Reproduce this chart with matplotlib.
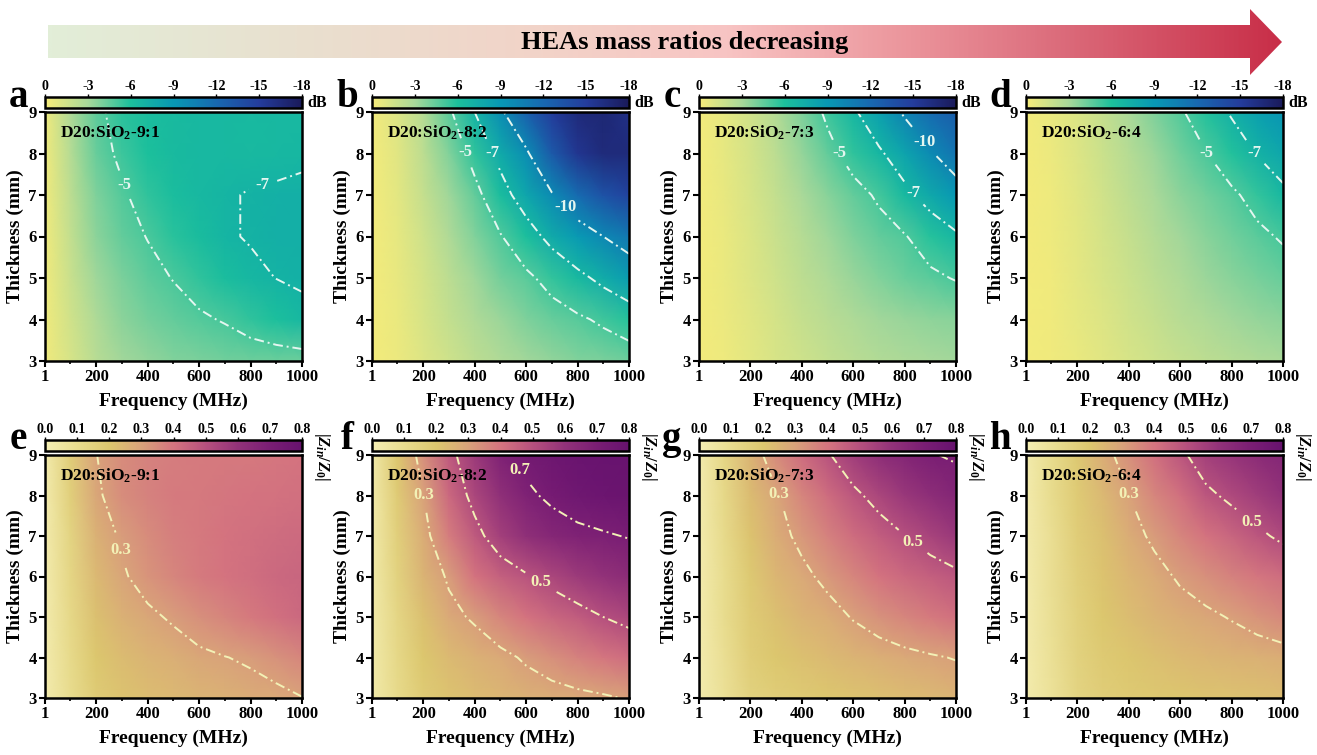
import numpy as np
import matplotlib
matplotlib.use('Agg')
import matplotlib.pyplot as plt
from matplotlib.colors import LinearSegmentedColormap, Normalize
from matplotlib.patches import Polygon
from matplotlib.cm import ScalarMappable
from matplotlib.ticker import FixedLocator

plt.rcParams['font.family'] = ['Liberation Serif', 'DejaVu Serif']
plt.rcParams['font.weight'] = 'bold'
plt.rcParams['axes.unicode_minus'] = False
plt.rcParams['mathtext.fontset'] = 'custom'
plt.rcParams['mathtext.rm'] = 'Liberation Serif:bold'
plt.rcParams['mathtext.bf'] = 'Liberation Serif:bold'
plt.rcParams['mathtext.it'] = 'Liberation Serif:bold:italic'

# ---------------- data ----------------
freq_mhz = [1, 100, 200, 300, 400, 500, 600, 700, 800, 900, 1000]
thickness_mm = [3, 4, 5, 6, 7, 8, 9]
freq_ticks = [1, 200, 400, 600, 800, 1000]
samples = ['9:1', '8:2', '7:3', '6:4']
top_letters = ['a', 'b', 'c', 'd']
bottom_letters = ['e', 'f', 'g', 'h']

# reflection loss (dB), rows: thickness 3 -> 9 mm, cols: freq_mhz
rl_a = [
    [-0.3, -1.3, -2.4, -3.1, -3.5, -3.8, -4.0, -4.15, -4.25, -4.3, -4.35],
    [-0.3, -1.5, -2.8, -3.6, -4.1, -4.5, -4.8, -5.1, -5.6, -6.1, -6.6],
    [-0.3, -1.8, -3.2, -4.0, -4.6, -5.05, -5.6, -6.2, -6.7, -7.02, -7.2],
    [-0.3, -2.0, -3.6, -4.5, -5.05, -5.7, -6.3, -6.85, -7.1, -7.25, -7.3],
    [-0.3, -2.2, -3.9, -4.8, -5.6, -6.2, -6.6, -6.85, -7.1, -7.2, -7.3],
    [-0.3, -2.5, -4.4, -5.3, -6.0, -6.4, -6.55, -6.6, -6.5, -6.6, -6.75],
    [-0.3, -2.7, -4.6, -5.7, -6.2, -6.45, -6.55, -6.55, -6.5, -6.55, -6.6],
]
rl_b = [
    [-0.2, -0.45, -1.0, -1.6, -2.2, -2.7, -3.1, -3.5, -3.8, -4.0, -4.25],
    [-0.2, -0.5, -1.2, -2.0, -2.7, -3.3, -3.9, -4.4, -4.75, -5.25, -5.8],
    [-0.2, -0.6, -1.4, -2.3, -3.2, -4.1, -4.7, -5.5, -6.5, -7.5, -8.6],
    [-0.2, -0.7, -1.6, -2.7, -3.8, -4.9, -6.1, -7.6, -8.8, -10.0, -11.0],
    [-0.2, -0.8, -1.9, -3.2, -4.5, -6.2, -8.0, -9.8, -11.8, -13.5, -14.5],
    [-0.2, -0.9, -2.2, -3.8, -5.6, -7.6, -9.6, -13.0, -15.5, -16.5, -16.5],
    [-0.2, -1.0, -2.5, -4.7, -7.0, -9.6, -12.5, -15.0, -16.5, -16.8, -16.0],
]
rl_c = [
    [-0.2, -0.4, -0.8, -1.2, -1.6, -2.0, -2.35, -2.65, -2.85, -3.0, -3.1],
    [-0.2, -0.45, -0.9, -1.4, -1.9, -2.35, -2.75, -3.1, -3.35, -3.55, -3.7],
    [-0.2, -0.5, -1.0, -1.6, -2.2, -2.8, -3.35, -3.85, -4.3, -4.7, -5.1],
    [-0.2, -0.55, -1.1, -1.8, -2.5, -3.2, -3.9, -4.5, -4.9, -5.8, -6.7],
    [-0.2, -0.6, -1.2, -2.0, -2.9, -3.7, -4.5, -5.2, -6.5, -7.8, -9.0],
    [-0.2, -0.65, -1.35, -2.3, -3.4, -4.5, -5.6, -6.7, -8.1, -9.8, -11.2],
    [-0.2, -0.7, -1.5, -2.6, -3.9, -5.3, -6.7, -8.4, -10.3, -11.8, -12.8],
]
rl_d = [
    [-0.2, -0.3, -0.55, -0.9, -1.25, -1.6, -1.95, -2.25, -2.5, -2.7, -2.9],
    [-0.2, -0.3, -0.65, -1.05, -1.5, -1.95, -2.4, -2.8, -3.1, -3.4, -3.65],
    [-0.2, -0.35, -0.75, -1.2, -1.75, -2.3, -2.8, -3.3, -3.7, -4.05, -4.4],
    [-0.2, -0.4, -0.8, -1.35, -1.95, -2.55, -3.15, -3.7, -4.2, -4.7, -5.15],
    [-0.2, -0.4, -0.9, -1.5, -2.2, -2.9, -3.6, -4.2, -4.75, -5.5, -6.6],
    [-0.2, -0.45, -1.0, -1.7, -2.5, -3.3, -4.2, -4.95, -5.9, -7.1, -8.0],
    [-0.2, -0.5, -1.1, -1.9, -2.9, -3.9, -4.8, -5.9, -7.2, -8.4, -9.2],
]

# impedance matching |Zin/Z0|, rows: thickness 3 -> 9 mm
zin_e = [
    [0.02, 0.10, 0.18, 0.21, 0.225, 0.24, 0.25, 0.26, 0.273, 0.28, 0.298],
    [0.02, 0.11, 0.20, 0.23, 0.25, 0.265, 0.285, 0.298, 0.31, 0.335, 0.36],
    [0.02, 0.12, 0.22, 0.26, 0.285, 0.31, 0.34, 0.365, 0.39, 0.41, 0.43],
    [0.02, 0.13, 0.24, 0.29, 0.33, 0.36, 0.385, 0.40, 0.415, 0.43, 0.44],
    [0.02, 0.14, 0.26, 0.31, 0.35, 0.375, 0.39, 0.40, 0.41, 0.42, 0.425],
    [0.02, 0.16, 0.285, 0.345, 0.37, 0.385, 0.39, 0.395, 0.40, 0.405, 0.41],
    [0.02, 0.17, 0.298, 0.35, 0.37, 0.38, 0.385, 0.39, 0.39, 0.395, 0.40],
]
zin_f = [
    [0.03, 0.11, 0.18, 0.21, 0.23, 0.245, 0.26, 0.27, 0.28, 0.29, 0.305],
    [0.03, 0.12, 0.20, 0.235, 0.26, 0.28, 0.31, 0.34, 0.37, 0.395, 0.42],
    [0.03, 0.13, 0.22, 0.28, 0.31, 0.36, 0.40, 0.435, 0.465, 0.50, 0.53],
    [0.03, 0.15, 0.25, 0.31, 0.40, 0.45, 0.49, 0.53, 0.57, 0.60, 0.63],
    [0.03, 0.16, 0.27, 0.38, 0.47, 0.55, 0.61, 0.65, 0.675, 0.69, 0.705],
    [0.03, 0.18, 0.298, 0.43, 0.53, 0.61, 0.68, 0.72, 0.75, 0.77, 0.78],
    [0.03, 0.20, 0.34, 0.47, 0.57, 0.68, 0.73, 0.76, 0.78, 0.79, 0.79],
]
zin_g = [
    [0.02, 0.08, 0.15, 0.17, 0.185, 0.20, 0.21, 0.22, 0.23, 0.24, 0.25],
    [0.02, 0.09, 0.17, 0.20, 0.22, 0.235, 0.25, 0.265, 0.28, 0.292, 0.304],
    [0.02, 0.10, 0.18, 0.22, 0.25, 0.27, 0.305, 0.335, 0.36, 0.385, 0.41],
    [0.02, 0.10, 0.19, 0.245, 0.28, 0.32, 0.36, 0.40, 0.43, 0.455, 0.48],
    [0.02, 0.11, 0.21, 0.27, 0.32, 0.37, 0.42, 0.46, 0.498, 0.54, 0.58],
    [0.02, 0.12, 0.23, 0.29, 0.36, 0.42, 0.48, 0.53, 0.58, 0.62, 0.66],
    [0.02, 0.13, 0.25, 0.35, 0.42, 0.49, 0.56, 0.62, 0.66, 0.695, 0.71],
]
zin_h = [
    [0.02, 0.075, 0.14, 0.17, 0.185, 0.195, 0.205, 0.21, 0.215, 0.22, 0.225],
    [0.02, 0.08, 0.15, 0.185, 0.205, 0.22, 0.235, 0.245, 0.255, 0.262, 0.27],
    [0.02, 0.085, 0.155, 0.20, 0.225, 0.25, 0.27, 0.285, 0.305, 0.33, 0.355],
    [0.02, 0.09, 0.16, 0.21, 0.245, 0.275, 0.31, 0.34, 0.37, 0.395, 0.42],
    [0.02, 0.09, 0.17, 0.22, 0.27, 0.315, 0.36, 0.40, 0.44, 0.48, 0.52],
    [0.02, 0.10, 0.18, 0.24, 0.298, 0.36, 0.41, 0.48, 0.52, 0.56, 0.60],
    [0.02, 0.10, 0.19, 0.27, 0.34, 0.41, 0.48, 0.55, 0.59, 0.63, 0.66],
]

rl_levels = [[-7, -5], [-10, -7, -5], [-10, -7, -5], [-7, -5]]
zin_levels = [[0.3], [0.3, 0.5, 0.7], [0.3, 0.5, 0.7], [0.3, 0.5]]
zin_label_levels = [[0.3], [0.3, 0.5, 0.7], [0.3, 0.5], [0.3, 0.5]]
rl_label_pos = [[(322, 7.28), (849, 7.21)],
                [(368, 8.03), (471, 8.03), (759, 6.76)],
                [(545, 8.0), (830, 7.02), (869, 8.25)],
                [(705, 8.03), (891, 8.03)]]
zin_label_pos = [[(295, 6.65)],
                 [(199, 8.02), (659, 5.87), (575, 8.63)],
                 [(317, 8.07), (830, 6.84)],
                 [(398, 8.02), (876, 7.33)]]
rl_cbar_ticks = [0, -3, -6, -9, -12, -15, -18]
zin_cbar_ticks = [0.0, 0.1, 0.2, 0.3, 0.4, 0.5, 0.6, 0.7, 0.8]

rl_data = [rl_a, rl_b, rl_c, rl_d]
zin_data = [zin_e, zin_f, zin_g, zin_h]

# ---------------- styling ----------------
cmap_rl = LinearSegmentedColormap.from_list('rl', [
    (0.0, '#1a1a5a'), (1/6, '#243c9c'), (2/6, '#1868b0'), (3/6, '#0898b4'),
    (4/6, '#1cc09c'), (5/6, '#a8d89a'), (1.0, '#f7ec7a')])
cmap_zin = LinearSegmentedColormap.from_list('zin', [
    (0.0, '#f5efb4'), (0.125, '#e8dc8e'), (0.25, '#dcc76e'), (0.375, '#d9a27a'),
    (0.5, '#d4747f'), (0.625, '#b6507e'), (0.75, '#923279'), (0.875, '#7a1e74'),
    (1.0, '#66126e')])
cmap_arrow = LinearSegmentedColormap.from_list('arr', [
    (0.0, '#e2eed8'), (0.2, '#e9e0cf'), (0.4, '#f2d3c8'), (0.55, '#f8c4c3'),
    (0.7, '#eb949b'), (0.8, '#de7381'), (1.0, '#c82e48')])

W, H = 1317, 755
fig = plt.figure(figsize=(W / 100, H / 100), dpi=100)


def rect(x0, y0, x1, y1):
    return [x0 / W, 1 - y1 / H, (x1 - x0) / W, (y1 - y0) / H]


# arrow banner
oax = fig.add_axes([0, 0, 1, 1])
oax.patch.set_visible(False)
arrow = Polygon([(48, 25), (1250, 25), (1250, 9), (1282, 42), (1250, 75),
                 (1250, 58), (48, 58)], closed=True, facecolor='none',
                edgecolor='none')
oax.add_patch(arrow)
gim = oax.imshow(np.linspace(0, 1, 512).reshape(1, -1), extent=[48, 1282, 75, 9],
                 aspect='auto', cmap=cmap_arrow)
gim.set_clip_path(arrow)
oax.set_xlim(0, W)
oax.set_ylim(H, 0)
oax.axis('off')
oax.text(685, 42, 'HEAs mass ratios decreasing', ha='center', va='center',
         fontsize=19, fontweight='bold')

lefts = [45, 372, 699, 1026]
axw = 257
F, T = np.meshgrid(freq_mhz, thickness_mm)
dashdot = (0, (5, 2, 1, 2))


def style_axes(ax):
    ax.set_xlim(1, 1000)
    ax.set_ylim(3, 9)
    ax.set_xticks(freq_ticks)
    ax.xaxis.set_minor_locator(FixedLocator([100, 300, 500, 700, 900]))
    ax.set_yticks(thickness_mm)
    ax.tick_params(which='major', direction='out', length=4, width=1.5,
                   labelsize=12, pad=2)
    ax.tick_params(which='minor', direction='out', length=2.5, width=1.2)
    for s in ax.spines.values():
        s.set_linewidth(1.8)
    ax.set_xlabel('Frequency (MHz)', fontsize=14, fontweight='bold', labelpad=5)
    ax.set_ylabel('Thickness (mm)', fontsize=14, fontweight='bold', labelpad=3)


def flat_labels(texts):
    for t in texts:
        t.set_rotation(0)


letter_x = [18, 347, 672, 1000]

for i in range(4):
    l = lefts[i]
    # ---- top row: reflection loss ----
    ax = fig.add_axes(rect(l, 112, l + axw, 361))
    Z = np.array(rl_data[i])
    ax.pcolormesh(F, T, Z, shading='gouraud', cmap=cmap_rl, vmin=-18, vmax=0,
                  rasterized=True)
    cs = ax.contour(F, T, Z, levels=rl_levels[i], colors='#e4f6f0',
                    linewidths=1.4)
    cs.set_linestyle(dashdot)
    txt = ax.clabel(cs, manual=rl_label_pos[i], inline=True, inline_spacing=8,
                    fmt='%g', fontsize=12, colors='#e4f6f0')
    flat_labels(txt)
    style_axes(ax)
    ax.text(0.06, 0.915, 'D20:SiO$_{2}$-' + samples[i], transform=ax.transAxes,
            fontsize=12.5, fontweight='bold', va='center', ha='left')

    cax = fig.add_axes(rect(l, 97, l + axw, 108))
    cb = fig.colorbar(ScalarMappable(norm=Normalize(-18, 0), cmap=cmap_rl),
                      cax=cax, orientation='horizontal')
    cax.invert_xaxis()
    cb.set_ticks(rl_cbar_ticks)
    cb.set_ticklabels([str(t) for t in rl_cbar_ticks])
    cax.xaxis.set_ticks_position('top')
    cax.tick_params(labelsize=10, length=2, width=1, pad=1)
    cb.outline.set_linewidth(1.8)
    fig.text((l + axw + 5) / W, 1 - 103 / H, 'dB', fontsize=11.5,
             fontweight='bold', ha='left', va='center')
    fig.text(letter_x[i] / W, 1 - 107 / H, top_letters[i], fontsize=28,
             fontweight='bold', ha='center', va='baseline')

    # ---- bottom row: impedance matching ----
    ax2 = fig.add_axes(rect(l, 455, l + axw, 698))
    Z2 = np.array(zin_data[i])
    ax2.pcolormesh(F, T, Z2, shading='gouraud', cmap=cmap_zin, vmin=0, vmax=0.8,
                   rasterized=True)
    cs2 = ax2.contour(F, T, Z2, levels=zin_levels[i], colors='#f3f1b6',
                      linewidths=1.4)
    cs2.set_linestyle(dashdot)
    txt2 = ax2.clabel(cs2, levels=zin_label_levels[i], manual=zin_label_pos[i],
                      inline=True, inline_spacing=8, fmt='%.1f', fontsize=12,
                      colors='#f3f1b6')
    flat_labels(txt2)
    style_axes(ax2)
    ax2.text(0.06, 0.915, 'D20:SiO$_{2}$-' + samples[i], transform=ax2.transAxes,
             fontsize=12.5, fontweight='bold', va='center', ha='left')

    cax2 = fig.add_axes(rect(l, 440, l + axw, 451))
    cb2 = fig.colorbar(ScalarMappable(norm=Normalize(0, 0.8), cmap=cmap_zin),
                       cax=cax2, orientation='horizontal')
    cb2.set_ticks(zin_cbar_ticks)
    cb2.set_ticklabels(['%.1f' % t for t in zin_cbar_ticks])
    cax2.xaxis.set_ticks_position('top')
    cax2.tick_params(labelsize=10, length=2, width=1, pad=1)
    cb2.outline.set_linewidth(1.8)
    fig.text((l + axw + 20) / W, 1 - 457 / H, r'$|Z_{in}/Z_0|$', fontsize=12,
             rotation=270, ha='center', va='center')
    fig.text(letter_x[i] / W, 1 - 449 / H, bottom_letters[i], fontsize=28,
             fontweight='bold', ha='center', va='baseline')

fig.savefig('out.png', dpi=100)
